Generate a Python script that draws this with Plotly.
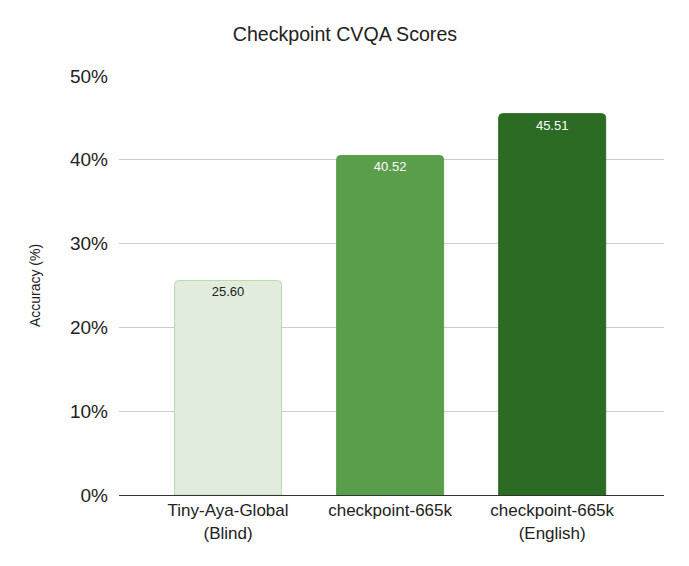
import plotly.graph_objects as go

categories = ["Tiny-Aya-Global<br>(Blind)", "checkpoint-665k", "checkpoint-665k<br>(English)"]
values = [25.60, 40.52, 45.51]
tick_vals = [0, 10, 20, 30, 40, 50]
tick_text = ["0%", "10%", "20%", "30%", "40%", "50%"]

fill_colors = ["#e1ecdc", "#5a9e4b", "#2b6b24"]
line_colors = ["#b4dcab", "#5a9e4b", "#2b6b24"]
text_colors = ["#222222", "#ffffff", "#ffffff"]

FONT = "Liberation Sans, Arial, sans-serif"

fig = go.Figure()
fig.add_trace(go.Bar(
    x=list(range(len(categories))),
    y=values,
    width=0.66,
    marker=dict(color=fill_colors, line=dict(color=line_colors, width=1)),
    text=[f"{v:.2f}" for v in values],
    textposition="inside",
    insidetextanchor="end",
    textangle=0,
    textfont=dict(family=FONT, size=13, color=text_colors),
    hoverinfo="skip",
))

fig.update_layout(
    width=689, height=566,
    margin=dict(l=111, r=33, t=68, b=79),
    paper_bgcolor="white", plot_bgcolor="white",
    barcornerradius=4,
    title=dict(text="Checkpoint CVQA Scores", x=0.489, xanchor="center", y=0.953, yanchor="middle",
               font=dict(family=FONT, size=19.6, color="#222222")),
    font=dict(family=FONT, color="#222222"),
    showlegend=False,
)
fig.update_xaxes(
    range=[-0.673, 2.69],
    tickvals=list(range(len(categories))),
    ticktext=categories,
    tickfont=dict(family=FONT, size=17, color="#222222"),
    showgrid=False, showline=True, linecolor="#333333", linewidth=1,
    ticks="", zeroline=False,
)
fig.update_yaxes(
    range=[0, 50],
    tickvals=tick_vals,
    ticktext=tick_text,
    tickfont=dict(family=FONT, size=19, color="#222222"),
    showgrid=True, gridcolor="#cccccc", gridwidth=1,
    zeroline=False, showline=False, ticks="",
    ticklabelstandoff=10,
    title=dict(text="Accuracy (%)", font=dict(family=FONT, size=14, color="#222222"), standoff=26),
)

fig.write_html("out.html")
